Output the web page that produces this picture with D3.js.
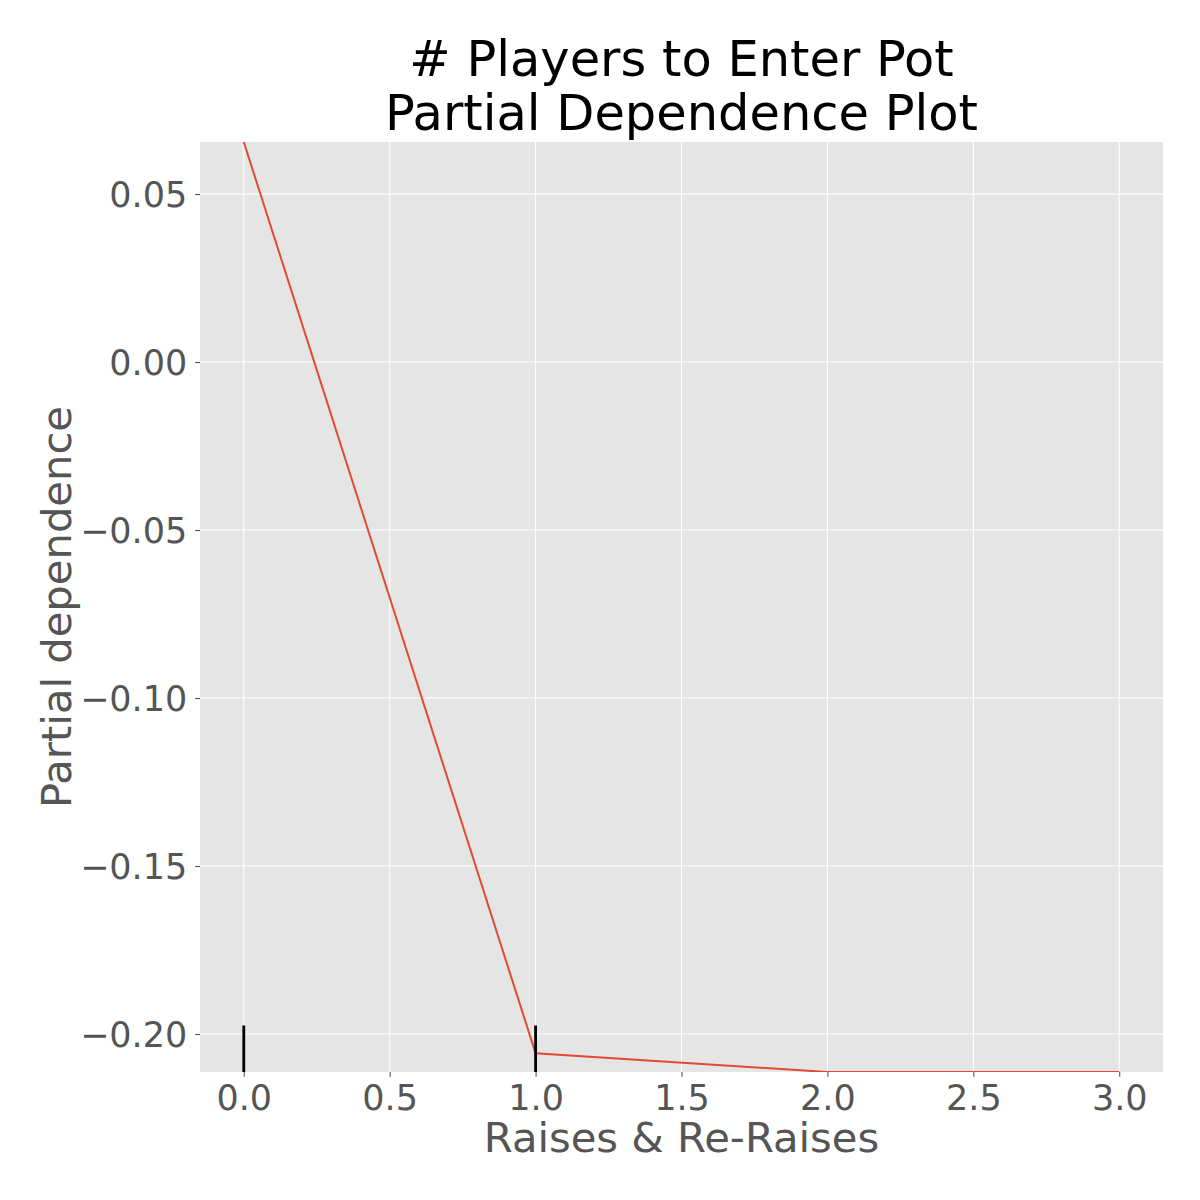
<!DOCTYPE html>
<html>
<head>
<meta charset="utf-8">
<script src="https://cdn.jsdelivr.net/npm/d3@7"></script>
<style>
  body { margin: 0; background: #fff; }
  text { font-family: "DejaVu Sans", sans-serif; }
</style>
</head>
<body>
<svg id="chart" width="1200" height="1200"></svg>
<script>
// partial dependence values
const raises = [0, 1, 2, 3];
const partialDep = [0.0655, -0.2057, -0.2113, -0.2113];
const deciles = [0, 1];
const xTicks = [0, 0.5, 1, 1.5, 2, 2.5, 3];
const yTicks = [0.05, 0, -0.05, -0.10, -0.15, -0.20];
const titleLines = ['# Players to Enter Pot', 'Partial Dependence Plot'];

const svg = d3.select('#chart');
const plotLeft = 200, plotRight = 1163, plotTop = 142, plotBottom = 1072;

const x = d3.scaleLinear().domain([-0.15, 3.15]).range([plotLeft, plotRight]);
const y = d3.scaleLinear().domain([-0.2113, 0.0655]).range([plotBottom, plotTop]);

svg.append('rect')
    .attr('x', plotLeft).attr('y', plotTop)
    .attr('width', plotRight - plotLeft).attr('height', plotBottom - plotTop)
    .attr('fill', '#e5e5e5');

svg.append('defs').append('clipPath').attr('id', 'plot-clip')
    .append('rect')
    .attr('x', plotLeft).attr('y', plotTop)
    .attr('width', plotRight - plotLeft).attr('height', plotBottom - plotTop);

// grid
const grid = svg.append('g');
grid.selectAll('.gx').data(xTicks).enter().append('line')
    .attr('x1', d => x(d)).attr('x2', d => x(d))
    .attr('y1', plotTop).attr('y2', plotBottom)
    .attr('stroke', '#fff').attr('stroke-width', 1.1);
grid.selectAll('.gy').data(yTicks).enter().append('line')
    .attr('x1', plotLeft).attr('x2', plotRight)
    .attr('y1', d => y(d)).attr('y2', d => y(d))
    .attr('stroke', '#fff').attr('stroke-width', 1.1);

// axes
const xAxis = svg.append('g')
    .attr('transform', `translate(0,${plotBottom})`)
    .call(d3.axisBottom(x).tickValues(xTicks).tickFormat(d3.format('.1f')).tickSize(4.8).tickPadding(5));
const yAxis = svg.append('g')
    .attr('transform', `translate(${plotLeft},0)`)
    .call(d3.axisLeft(y).tickValues(yTicks)
        .tickFormat(d => d3.format('.2f')(d).replace('-', '\u2212'))
        .tickSize(4.8).tickPadding(8));

[xAxis, yAxis].forEach(a => {
    a.select('.domain').remove();
    a.selectAll('.tick line').attr('stroke', '#555').attr('stroke-width', 1.1);
    a.selectAll('.tick text')
        .attr('fill', '#555')
        .style('font-size', '35px')
        .style('font-family', '"DejaVu Sans", sans-serif');
});
xAxis.selectAll('.tick text').attr('y', 38).attr('dy', 0);
yAxis.selectAll('.tick text').attr('dy', '0.36em');

// pd line
const plot = svg.append('g').attr('clip-path', 'url(#plot-clip)');
plot.append('path')
    .datum(raises.map((r, i) => [r, partialDep[i]]))
    .attr('fill', 'none')
    .attr('stroke', '#e24a33')
    .attr('stroke-width', 2)
    .attr('d', d3.line().x(d => x(d[0])).y(d => y(d[1])));

// decile rug
plot.selectAll('.decile').data(deciles).enter().append('line')
    .attr('x1', d => x(d)).attr('x2', d => x(d))
    .attr('y1', plotBottom).attr('y2', plotBottom - 0.05 * (plotBottom - plotTop))
    .attr('stroke', '#000').attr('stroke-width', 2.8);

// labels
svg.append('text')
    .attr('x', (plotLeft + plotRight) / 2).attr('y', 1152)
    .attr('text-anchor', 'middle')
    .attr('fill', '#555')
    .style('font-size', '41.7px')
    .text('Raises & Re-Raises');

svg.append('text')
    .attr('transform', `translate(71,${(plotTop + plotBottom) / 2}) rotate(-90)`)
    .attr('text-anchor', 'middle')
    .attr('fill', '#555')
    .style('font-size', '41.7px')
    .text('Partial dependence');

svg.selectAll('.title').data(titleLines).enter().append('text')
    .attr('x', (plotLeft + plotRight) / 2)
    .attr('y', (d, i) => 76 + i * 54)
    .attr('text-anchor', 'middle')
    .attr('fill', '#000')
    .style('font-size', '49.5px')
    .text(d => d);
</script>
</body>
</html>
